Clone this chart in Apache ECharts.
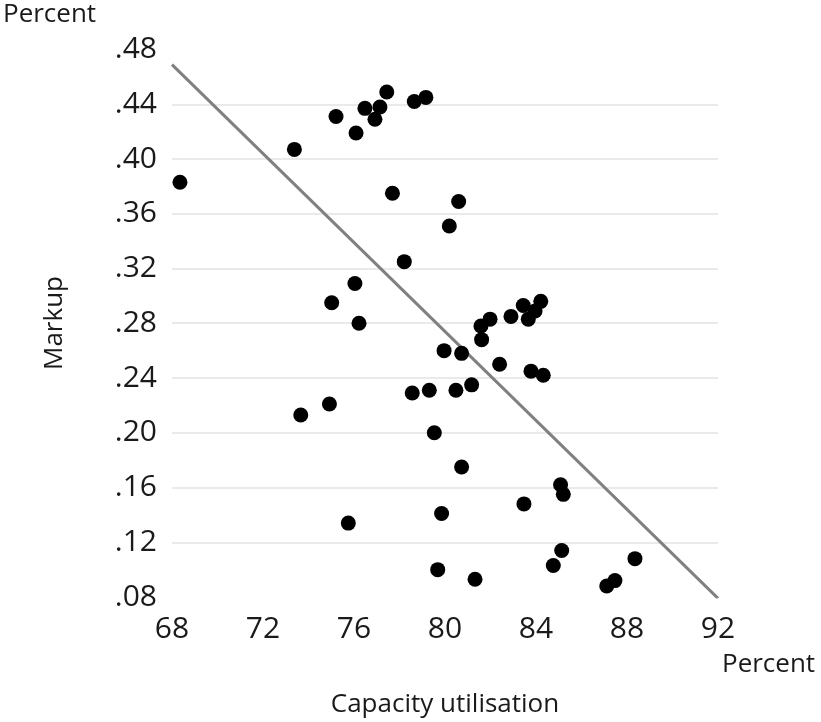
<!DOCTYPE html>
<html>
<head>
<meta charset="utf-8">
<title>Markup vs capacity utilisation</title>
<script src="https://cdn.jsdelivr.net/npm/echarts@6/dist/echarts.min.js"></script>
<style>
  html, body { margin: 0; padding: 0; background: #fff; }
  #main { width: 821px; height: 722px; }
</style>
</head>
<body>
<div id="main"></div>
<script>
// capacity utilisation (percent) and markup
var utilisation = [68.35, 73.38, 75.21, 76.09, 76.48, 76.92, 77.14, 77.44, 78.65, 79.16,
  77.69, 80.60, 80.19, 78.21, 76.04, 75.02, 76.22, 79.96, 80.73, 81.61,
  81.58, 81.98, 78.56, 79.31, 80.48, 81.17, 82.40, 74.92, 73.66, 82.90,
  83.44, 83.66, 83.96, 84.21, 83.78, 84.32, 79.53, 80.73, 79.85, 75.75,
  79.68, 81.32, 83.47, 85.08, 85.20, 85.13, 84.76, 87.11, 87.47, 88.35];
var markup = [0.383, 0.407, 0.431, 0.419, 0.437, 0.429, 0.438, 0.449, 0.442, 0.445,
  0.375, 0.369, 0.351, 0.325, 0.309, 0.295, 0.280, 0.260, 0.258, 0.268,
  0.278, 0.283, 0.229, 0.231, 0.231, 0.235, 0.250, 0.221, 0.213, 0.285,
  0.293, 0.283, 0.289, 0.296, 0.245, 0.242, 0.200, 0.175, 0.141, 0.134,
  0.100, 0.093, 0.148, 0.162, 0.155, 0.114, 0.103, 0.088, 0.092, 0.108];

// fitted line end points
var fitX = [68, 92];
var fitY = [0.469, 0.079];

var xTicks = [68, 72, 76, 80, 84, 88, 92];
var yTicks = [0.08, 0.12, 0.16, 0.20, 0.24, 0.28, 0.32, 0.36, 0.40, 0.44, 0.48];

var chart = echarts.init(document.getElementById('main'));

var points = utilisation.map(function (u, i) { return [u, markup[i]]; });
var fit = fitX.map(function (u, i) { return [u, fitY[i]]; });

var font = '"Open Sans", "Noto Sans", sans-serif';
var ink = '#1a1a1a';

var option = {
  backgroundColor: '#fff',
  animation: false,
  grid: {
    left: 172,
    right: 103,
    top: 49.5,
    bottom: 125
  },
  xAxis: {
    type: 'value',
    min: xTicks[0],
    max: xTicks[xTicks.length - 1],
    interval: 4,
    axisLine: { show: false },
    axisTick: { show: false },
    splitLine: { show: false },
    axisLabel: {
      margin: 17,
      fontSize: 30,
      fontFamily: font,
      color: ink
    }
  },
  yAxis: {
    type: 'value',
    min: yTicks[0],
    max: yTicks[yTicks.length - 1],
    interval: 0.04,
    axisLine: { show: false },
    axisTick: { show: false },
    splitLine: {
      show: true,
      showMinLine: false,
      showMaxLine: false,
      lineStyle: { color: '#e3e3e3', width: 1.5 }
    },
    axisLabel: {
      margin: 15,
      fontSize: 30,
      fontFamily: font,
      color: ink,
      padding: [0, 0, 8, 0],
      formatter: function (v) {
        return v.toFixed(2).replace(/^0/, '');
      }
    }
  },
  graphic: [
    {
      type: 'text', left: 3, top: 2,
      style: { text: 'Percent', font: '26px ' + font, fill: ink }
    },
    {
      type: 'text', left: 722, top: 652,
      style: { text: 'Percent', font: '26px ' + font, fill: ink }
    },
    {
      type: 'text', x: 445, y: 705,
      style: { text: 'Capacity utilisation', font: '26px ' + font, fill: ink,
        align: 'center', verticalAlign: 'middle' }
    },
    {
      type: 'text', x: 55, y: 323, rotation: Math.PI / 2,
      style: { text: 'Markup', font: '26px ' + font, fill: ink,
        align: 'center', verticalAlign: 'middle' }
    }
  ],
  series: [
    {
      type: 'line',
      data: fit,
      symbol: 'none',
      lineStyle: { color: '#808080', width: 3 },
      z: 2
    },
    {
      type: 'scatter',
      data: points,
      symbolSize: 15,
      itemStyle: { color: '#000', opacity: 1 },
      z: 3
    }
  ]
};

chart.setOption(option);
</script>
</body>
</html>
